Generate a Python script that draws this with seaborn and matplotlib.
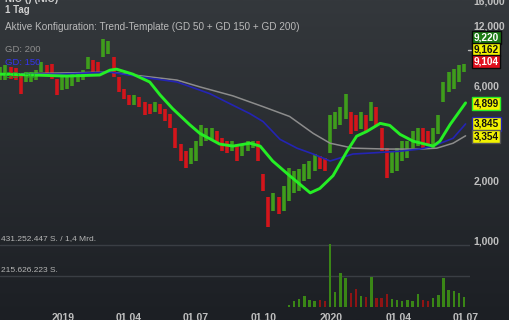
import numpy as np
import pandas as pd
import matplotlib
matplotlib.use("Agg")
import matplotlib.pyplot as plt
import matplotlib.ticker as mticker
from matplotlib.colors import LinearSegmentedColormap
import seaborn as sns

sns.set_theme(style="dark")
plt.rcParams["font.family"] = ["Liberation Sans", "DejaVu Sans"]

# ---------------- data (weekly bars, EUR) ----------------
first_week = "2018-10-08"
high = [7.39, 7.56, 7.39, 7.30, 6.75, 6.98, 6.98, 7.14, 7.82, 7.56,
        7.64, 6.45, 6.67, 6.75, 6.82, 6.98, 7.14, 8.28, 8.00, 7.82,
        10.16, 10.04, 8.28, 6.59, 5.76, 5.37, 5.37, 5.25, 4.96, 4.85,
        4.96, 4.85, 4.59, 4.33, 3.65, 3.05, 2.81, 2.91, 3.15, 3.82,
        3.65, 3.69, 3.53, 3.26, 3.15, 3.15, 3.05, 3.05, 3.15, 3.15,
        3.15, 2.17, 1.65, 1.73, 1.65, 1.89, 2.32, 2.24, 2.29, 2.43,
        2.51, 2.72, 2.66, 2.60, 4.28, 4.43, 4.69, 5.44, 4.43, 4.28,
        4.43, 4.28, 4.96, 4.69, 3.65, 2.91, 2.81, 2.91, 3.15, 3.15,
        3.53, 3.65, 3.65, 3.53, 3.65, 4.28, 6.23, 6.98, 7.22, 7.56,
        7.64]
low = [6.37, 6.37, 6.45, 6.37, 5.44, 6.23, 6.23, 6.37, 6.98, 6.67,
       6.45, 5.37, 5.69, 5.76, 5.95, 6.23, 6.37, 7.22, 6.98, 6.98,
       8.28, 8.56, 6.59, 5.56, 5.14, 4.80, 4.80, 4.69, 4.28, 4.33,
       4.43, 4.33, 3.96, 3.65, 2.91, 2.51, 2.32, 2.43, 2.51, 2.98,
       3.15, 3.22, 3.08, 2.81, 2.75, 2.81, 2.51, 2.66, 2.81, 2.91,
       2.51, 1.78, 1.17, 1.42, 1.37, 1.42, 1.59, 1.73, 1.78, 2.00,
       2.05, 2.24, 2.29, 2.24, 2.75, 3.61, 3.82, 4.09, 3.41, 3.53,
       3.61, 3.53, 3.96, 3.74, 2.81, 2.07, 2.19, 2.24, 2.51, 2.60,
       2.91, 2.98, 2.91, 2.98, 2.91, 3.41, 4.96, 5.56, 5.76, 6.23,
       6.98]
volume_m = [3, 3, 3, 3, 3, 3, 3, 3, 3, 3,
            3, 3, 3, 3, 3, 3, 3, 3, 3, 3,
            3, 3, 3, 3, 3, 3, 3, 3, 3, 3,
            3, 3, 3, 3, 3, 3, 3, 3, 3, 3,
            3, 3, 3, 3, 3, 3, 3, 3, 3, 3,
            3, 3, 3, 3, 3, 3, 14, 42, 56, 77,
            49, 42, 49, 42, 436, 105, 237, 202, 97, 125,
            77, 70, 209, 63, 63, 90, 56, 49, 42, 49,
            42, 90, 49, 42, 63, 84, 202, 118, 111, 97,
            70]

gd50_dates = ["2018-10-07", "2018-11-21", "2019-01-06", "2019-02-20", "2019-03-06",
              "2019-03-15", "2019-04-06", "2019-04-29", "2019-05-13", "2019-05-30",
              "2019-06-22", "2019-07-06", "2019-08-02", "2019-08-20", "2019-09-12",
              "2019-09-26", "2019-10-13", "2019-11-05", "2019-12-03", "2019-12-16",
              "2020-01-03", "2020-01-22", "2020-02-04", "2020-02-18", "2020-03-07",
              "2020-03-20", "2020-04-03", "2020-04-21", "2020-05-18", "2020-05-27",
              "2020-06-10", "2020-07-01"]
gd50 = [6.82, 6.75, 6.67, 6.75, 7.14, 7.22, 6.82, 6.23, 5.37, 4.59,
        3.82, 3.45, 3.05, 2.98, 3.08, 2.98, 2.51, 2.12, 1.74, 1.83,
        2.12, 2.81, 3.34, 3.53, 3.87, 3.78, 3.41, 3.15, 2.98, 3.15,
        3.82, 4.899]

gd150_dates = ["2018-10-07", "2018-12-28", "2019-03-06", "2019-04-19", "2019-06-05",
               "2019-07-20", "2019-08-16", "2019-09-12", "2019-09-30", "2019-10-23",
               "2019-11-15", "2019-12-07", "2019-12-30", "2020-01-30", "2020-02-22",
               "2020-04-03", "2020-04-30", "2020-05-18", "2020-06-14", "2020-07-01"]
gd150 = [6.82, 6.82, 6.98, 6.59, 6.23, 5.44, 4.85, 4.33, 3.95, 3.22,
         2.91, 2.72, 2.51, 2.72, 2.75, 2.81, 2.88, 2.98, 3.26, 3.845]

gd200_dates = ["2018-10-07", "2019-03-06", "2019-04-19", "2019-06-05", "2019-07-06",
               "2019-08-20", "2019-09-30", "2019-11-05", "2019-12-07", "2019-12-30",
               "2020-01-30", "2020-03-16", "2020-04-30", "2020-05-23", "2020-06-14",
               "2020-07-01"]
gd200 = [6.82, 6.98, 6.67, 6.37, 5.89, 5.31, 4.69, 4.19, 3.45, 3.08,
         2.91, 2.88, 2.88, 2.91, 3.08, 3.354]

price_ticks = [1, 2, 4, 6, 12, 16]
date_ticks = ["2019-01-01", "2019-04-01", "2019-07-01", "2019-10-01",
              "2020-01-01", "2020-04-01", "2020-07-01"]
date_labels = ["2019", "01.04", "01.07", "01.10", "2020", "01.04", "01.07"]
quote_labels = ["9,220", "9,162", "9,104"]
ma_labels = ["4,899", "3,845", "3,354"]

# ---------------- figure ----------------
W, H = 510, 320
fig = plt.figure(figsize=(W / 100, H / 100), dpi=100)

bg = fig.add_axes([0, 0, 1, 1], zorder=-10)
grad = np.linspace(0, 1, 256).reshape(-1, 1)
bg.imshow(grad, aspect="auto", extent=[0, 1, 0, 1], origin="lower",
          cmap=LinearSegmentedColormap.from_list("bg", ["#1c1f24", "#34383c"]))
bg.axis("off")

weeks = pd.date_range(first_week, periods=len(high), freq="7D")
hi = np.array(high)
lo = np.array(low)
mid = (hi + lo) / 2
up = np.concatenate([[True], mid[1:] >= mid[:-1]])
pcol = np.where(up, "#3f9d1c", "#d3151b")
vcol = np.where(up, "#3a8616", "#8e1414")

xl = (pd.Timestamp("2018-10-07 16:00"), pd.Timestamp("2020-07-07"))

def px(x, y):
    return x / W, 1 - y / H

ax = fig.add_axes([0, 79 / H, 470 / W, 241 / H])
ax.set_facecolor("none")
ax.vlines(weeks, lo, hi, colors=pcol, lw=2.6, zorder=2)

df200 = pd.DataFrame({"d": pd.to_datetime(gd200_dates), "v": gd200})
df150 = pd.DataFrame({"d": pd.to_datetime(gd150_dates), "v": gd150})
df50 = pd.DataFrame({"d": pd.to_datetime(gd50_dates), "v": gd50})
sns.lineplot(data=df200, x="d", y="v", ax=ax, color="#8c8c8c", lw=1.1, zorder=3)
sns.lineplot(data=df150, x="d", y="v", ax=ax, color="#2424b4", lw=1.2, zorder=4)
sns.lineplot(data=df50, x="d", y="v", ax=ax, color="#25ee25", lw=2.1, zorder=5)

ax.set_yscale("log")
ax.set_ylim(1.0, 16.0)
ax.set_xlim(*xl)
ax.yaxis.tick_right()
ax.yaxis.set_minor_locator(mticker.NullLocator())
ax.set_yticks(price_ticks)
ax.set_yticklabels([f"{v:.3f}".replace(".", ",") for v in price_ticks])
ax.tick_params(axis="y", colors="#bfbfbf", labelsize=7.5, length=0, pad=2.5)
for t in ax.get_yticklabels():
    t.set_fontweight("bold")
ax.set_xticks([])
ax.set_xlabel("")
ax.set_ylabel("")
ax.grid(False)
for s in ax.spines.values():
    s.set_visible(False)

vax = fig.add_axes([0, 13 / H, 470 / W, 66 / H])
vax.set_facecolor("none")
vax.axhline(215.626223, color="#3a3e44", lw=1.0, zorder=1)
vax.axhline(431.252447, color="#3a3e44", lw=1.0, zorder=1)
vax.bar(weeks, volume_m, width=3.2, color=vcol, edgecolor="none", linewidth=0, zorder=2)
vax.set_ylim(0, 459)
vax.set_xlim(*xl)
vax.set_yticks([])
vax.set_xticks(pd.to_datetime(date_ticks))
vax.set_xticklabels(date_labels)
vax.tick_params(axis="x", colors="#bfbfbf", labelsize=7.5, length=0, pad=4)
for t in vax.get_xticklabels():
    t.set_fontweight("bold")
vax.grid(False)
for s in vax.spines.values():
    s.set_visible(False)

# ---------------- texts ----------------
fig.text(*px(5, -0.5), "NIO () (NIO)", color="#cfcfcf", fontsize=7.0,
         fontweight="bold", va="center", ha="left")
fig.text(*px(5, 10), "1 Tag", color="#cfcfcf", fontsize=7.0,
         fontweight="bold", va="center", ha="left")
fig.text(*px(5, 27.5), "Aktive Konfiguration: Trend-Template (GD 50 + GD 150 + GD 200)",
         color="#b9b9b9", fontsize=7.2, va="center", ha="left")
fig.text(*px(5, 50), "GD: 200", color="#8e8e8e", fontsize=6.8, va="center", ha="left")
fig.text(*px(5, 62.5), "GD: 150", color="#3434ee", fontsize=6.8, va="center", ha="left",
         zorder=6)
fig.text(*px(5, 75), "GD: 50", color="#23b023", fontsize=6.8, va="center", ha="left",
         zorder=6)

fig.text(*px(1, 239), "431.252.447 S. / 1,4 Mrd.", color="#b5b5b5", fontsize=6.0,
         va="center", ha="left")
fig.text(*px(1, 271), "215.626.223 S.", color="#b5b5b5", fontsize=6.0,
         va="center", ha="left")

def box(y, label, face, edge, tc):
    fig.text(*px(473.5, y), label, color=tc, fontsize=7.2, fontweight="bold",
             va="center", ha="left", zorder=10,
             bbox=dict(boxstyle="square,pad=0.18", fc=face, ec=edge, lw=1.0))

box(37.5, quote_labels[0], "#1d7a14", "#0a0a0a", "white")
box(49.5, quote_labels[1], "#f2f200", "#0a0a0a", "#111111")
box(61.5, quote_labels[2], "#e0101e", "#0a0a0a", "white")
box(103.5, ma_labels[0], "#f2f200", "#25ee25", "#111111")
box(124, ma_labels[1], "#f2f200", "#2424b4", "#111111")
box(136.5, ma_labels[2], "#f2f200", "#555555", "#111111")
fig.lines.append(plt.Line2D([468 / W, 471 / W], [1 - 49.5 / H] * 2,
                            transform=fig.transFigure, color="#bbbbbb", lw=1))

fig.savefig("out.png", dpi=100)
